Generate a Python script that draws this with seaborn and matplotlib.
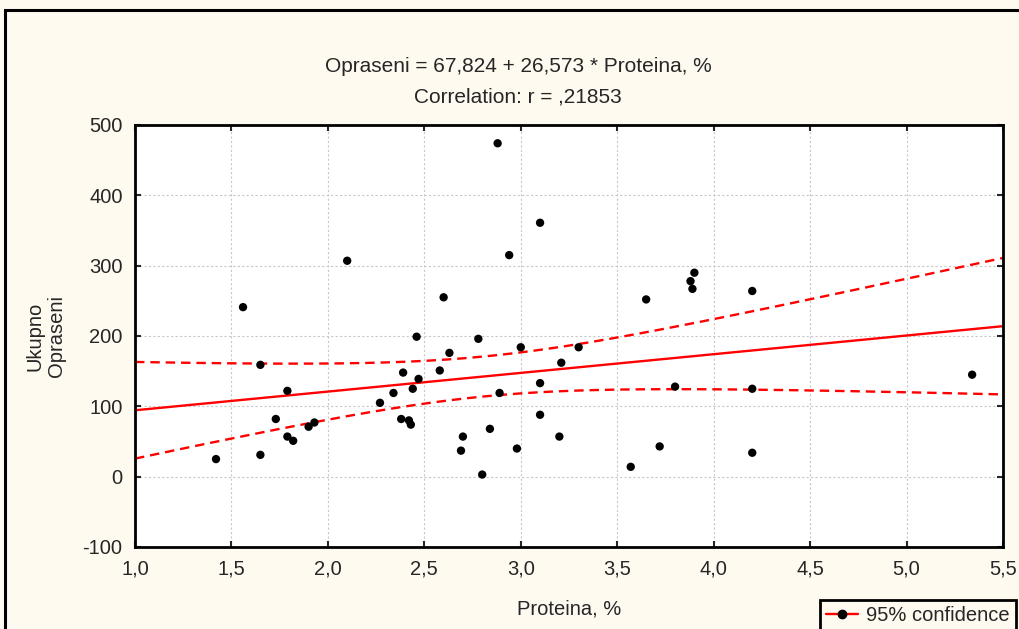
import matplotlib
matplotlib.use("Agg")
import matplotlib.pyplot as plt
from matplotlib.lines import Line2D
from matplotlib.patches import Rectangle
import numpy as np
import pandas as pd
import seaborn as sns

# Data
proteina = [1.42, 1.56, 1.65, 1.65, 1.79, 1.73, 1.79, 1.82, 1.90, 1.93,
            2.10, 2.27, 2.34, 2.38, 2.39, 2.42, 2.43, 2.44, 2.46, 2.47,
            2.58, 2.60, 2.63, 2.69, 2.70, 2.78, 2.80, 2.84, 2.88, 2.89,
            2.94, 2.98, 3.00, 3.10, 3.10, 3.10, 3.20, 3.21, 3.30, 3.57,
            3.65, 3.72, 3.80, 3.88, 3.89, 3.90, 4.20, 4.20, 4.20, 5.34]
opraseni = [25, 241, 159, 31, 122, 82, 57, 51, 71, 77,
            307, 105, 119, 82, 148, 80, 74, 125, 199, 139,
            151, 255, 176, 37, 57, 196, 3, 68, 474, 119,
            315, 40, 184, 361, 133, 88, 57, 162, 184, 14,
            252, 43, 128, 278, 267, 290, 264, 125, 34, 145]

intercept = 67.824
slope = 26.573
x_ticks = [1.0, 1.5, 2.0, 2.5, 3.0, 3.5, 4.0, 4.5, 5.0, 5.5]
y_ticks = [-100, 0, 100, 200, 300, 400, 500]

df = pd.DataFrame({"Proteina": proteina, "Opraseni": opraseni})

# Fit line and 95% confidence bands
xs = np.linspace(1.0, 5.5, 200)
fit = intercept + slope * xs
x_arr = np.array(proteina)
y_arr = np.array(opraseni)
n = len(x_arr)
resid = y_arr - (intercept + slope * x_arr)
s = np.sqrt((resid ** 2).sum() / (n - 2))
sxx = ((x_arr - x_arr.mean()) ** 2).sum()
half = 2.01 * s * np.sqrt(1 / n + (xs - x_arr.mean()) ** 2 / sxx)
fit_df = pd.DataFrame({"x": xs, "fit": fit, "lo": fit - half, "hi": fit + half})

bg = "#fffaf0"
sns.set_style("white")
plt.rcParams["font.family"] = ["Liberation Sans", "DejaVu Sans"]
fs = 14.5

fig = plt.figure(figsize=(10.19, 6.29), dpi=100, facecolor=bg)
ax = fig.add_axes([135 / 1019, 1 - 547 / 629, 868 / 1019, 422 / 629])
ax.set_facecolor("white")

# outer frame, cut at right and bottom like the reference
fig.patches.append(Rectangle((5 / 1019, -0.1), 1.2, 1 - 10 / 629 + 0.1,
                             transform=fig.transFigure, fill=False,
                             edgecolor="black", linewidth=2.2))

sns.lineplot(data=fit_df, x="x", y="fit", color="red", linewidth=1.7, ax=ax)
sns.lineplot(data=fit_df, x="x", y="lo", color="red", linewidth=1.7,
             linestyle=(0, (4, 2.5)), ax=ax)
sns.lineplot(data=fit_df, x="x", y="hi", color="red", linewidth=1.7,
             linestyle=(0, (4, 2.5)), ax=ax)
sns.scatterplot(data=df, x="Proteina", y="Opraseni", color="black", s=36,
                edgecolor="none", ax=ax, zorder=5)

ax.set_xlim(1.0, 5.5)
ax.set_ylim(-100, 500)
ax.set_xticks(x_ticks)
ax.set_yticks(y_ticks)
ax.set_xticklabels([f"{v:.1f}".replace(".", ",") for v in x_ticks])
ax.set_yticklabels([str(v) for v in y_ticks])
ax.tick_params(direction="in", length=4, width=1.5, labelsize=fs,
               top=True, right=True, bottom=True, left=True, pad=9)
ax.grid(True, color="#c8c8c8", linestyle=(0, (2, 2)), linewidth=0.8)
for sp in ax.spines.values():
    sp.set_color("black")
    sp.set_linewidth(2)

ax.set_xlabel("Proteina, %", fontsize=fs)
ax.xaxis.set_label_coords(0.5, -0.125)
ax.set_ylabel("Ukupno\nOpraseni", fontsize=fs)
ax.yaxis.set_label_coords(-0.079, 0.5)

fig.text(518 / 1019, 1 - 66 / 629, "Opraseni = 67,824 + 26,573 * Proteina, %",
         ha="center", va="center", fontsize=15)
fig.text(518 / 1019, 1 - 97 / 629, "Correlation: r = ,21853",
         ha="center", va="center", fontsize=15)

handle = Line2D([], [], color="red", marker="o", markerfacecolor="black",
                markeredgecolor="black", markersize=6, linewidth=1.7)
leg = fig.legend([handle], ["95% confidence"], loc="upper left",
                 bbox_to_anchor=(820 / 1019, 1 - 600 / 629), fontsize=fs,
                 fancybox=False, framealpha=1, edgecolor="black",
                 borderpad=0.3, borderaxespad=0, handlelength=1.6,
                 handletextpad=0.4)
leg.get_frame().set_linewidth(2)
leg.get_frame().set_facecolor(bg)

fig.savefig("out.png", dpi=100, facecolor=bg)
